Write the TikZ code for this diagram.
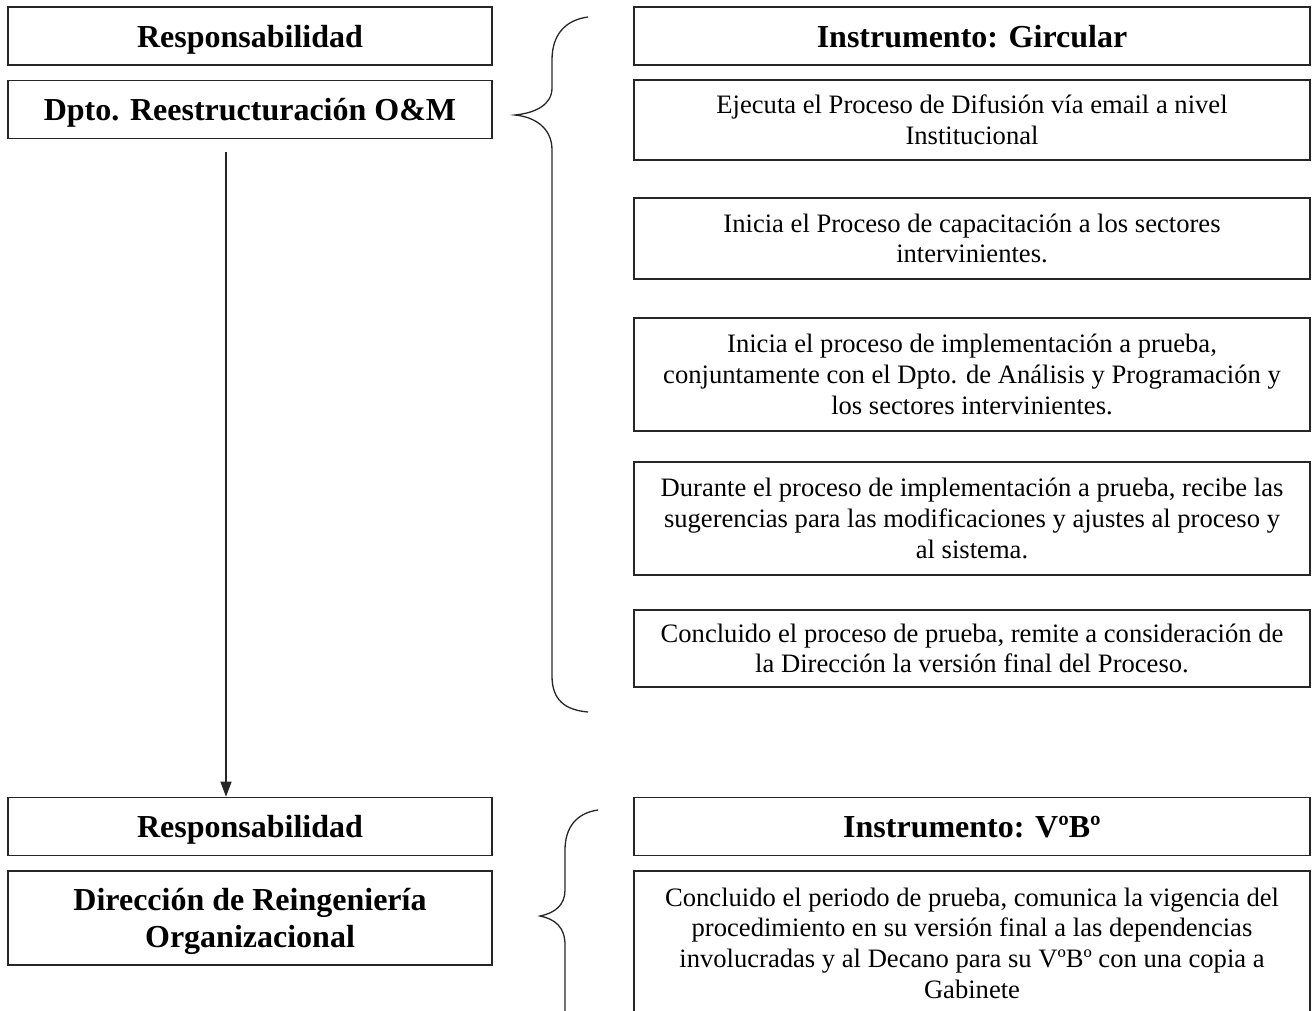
\documentclass[tikz,border=0pt]{standalone}
\usepackage{fontspec}
\setmainfont{Liberation Serif}
\usetikzlibrary{positioning,arrows.meta}
\tikzset{head node/.style={draw=black!85,line width=1.6pt,minimum width=484pt,minimum height=58pt,inner sep=0pt,text depth=0pt,font=\fontsize{32}{37}\selectfont\bfseries,align=center} }
\tikzset{task node/.style={draw=black!85,line width=1.6pt,minimum width=676pt,inner sep=0pt,font=\fontsize{26.6}{30.6}\selectfont,align=center} }
\tikzset{brace line/.style={draw=black!85,line width=1.3pt} }

\begin{document}
\begin{tikzpicture}[x=1pt,y=-1pt]
\path[use as bounding box,clip] (0,0) rectangle (1313,1010);

  \node[head node] (resp1) at (250,36) {Responsabilidad};
  \node[head node] (dpto) [below=14pt of resp1] {Dpto. Reestructuración O\&M};
  \node[head node] (resp2) at (250,826.5) {Responsabilidad};
  \node[head node,minimum height=94pt] (dir) [below=14pt of resp2] {Dirección de Reingeniería\\Organizacional};

  \node[head node,minimum width=676pt] (inst1) at (972,36) {Instrumento: Gircular};
  \node[task node,minimum height=80pt] (t1) at (972,120) {Ejecuta el Proceso de Difusión vía email a nivel\\Institucional};
  \node[task node,minimum height=81pt] (t2) at (972,238.5) {Inicia el Proceso de capacitación a los sectores\\intervinientes.};
  \node[task node,minimum height=113pt] (t3) at (972,374.5) {Inicia el proceso de implementación a prueba,\\conjuntamente con el Dpto. de Análisis y Programación y\\los sectores intervinientes.};
  \node[task node,minimum height=113pt] (t4) at (972,518.5) {Durante el proceso de implementación a prueba, recibe las\\sugerencias para las modificaciones y ajustes al proceso y\\al sistema.};
  \node[task node,minimum height=77pt] (t5) at (972,648.5) {Concluido el proceso de prueba, remite a consideración de\\la Dirección la versión final del Proceso.};
  \node[head node,minimum width=676pt] (inst2) at (972,826.5) {Instrumento: VºBº};
  \node[task node,minimum height=144pt] (t6) [below=14pt of inst2] {Concluido el periodo de prueba, comunica la vigencia del\\procedimiento en su versión final a las dependencias\\involucradas y al Decano para su VºBº con una copia a\\Gabinete};

  \draw[line width=1.3pt,black!85,-{Triangle[length=15pt,width=11pt]}] ([xshift=-24pt,yshift=-13pt]dpto.south) -- ([xshift=-24pt]resp2.north);

  % braces
  \draw[brace line] (588,17) .. controls (565,20) and (552,35) .. (552,60) -- (552,88) .. controls (552,105) and (535,113) .. (515,115) .. controls (535,117) and (552,128) .. (552,150) -- (552,676) .. controls (552,700) and (565,710) .. (588,712);
  \draw[brace line] (598,810) .. controls (576,813) and (565,828) .. (565,850) -- (565,890) .. controls (565,905) and (555,913) .. (540,916) .. controls (555,919) and (565,927) .. (565,945) -- (565,1020);
\end{tikzpicture}
\end{document}
